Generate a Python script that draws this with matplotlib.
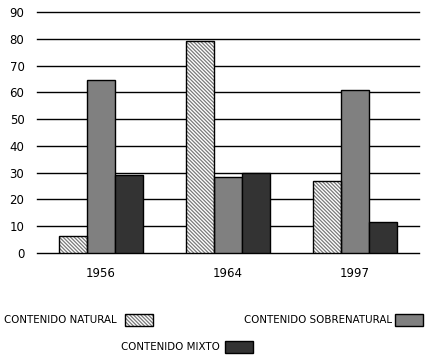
import matplotlib
matplotlib.use("Agg")
import matplotlib.pyplot as plt
import numpy as np
from matplotlib.patches import Rectangle

years = ["1956", "1964", "1997"]
natural = [6.5, 79, 27]
sobrenatural = [64.5, 28.5, 61]
mixto = [29, 30, 11.5]
series_names = ["CONTENIDO NATURAL", "CONTENIDO SOBRENATURAL", "CONTENIDO MIXTO"]
yticks = [0, 10, 20, 30, 40, 50, 60, 70, 80, 90]

plt.rcParams['font.family'] = ['DejaVu Sans']
plt.rcParams['hatch.linewidth'] = 0.9

HATCH = '\\' * 9

fig = plt.figure(figsize=(4.34, 3.61), dpi=100)
ax = fig.add_axes([0.085, 0.299, 0.88, 0.668])

x = np.arange(len(years))
w = 0.22
# natural: hatched
ax.bar(x - w, natural, w, color='white', edgecolor='#7a7a7a', hatch=HATCH, linewidth=0, zorder=3)
ax.bar(x - w, natural, w, color='none', edgecolor='black', linewidth=1, zorder=4)
ax.bar(x, sobrenatural, w, color='#808080', edgecolor='black', linewidth=1, zorder=3)
ax.bar(x + w, mixto, w, color='#333333', edgecolor='black', linewidth=1, zorder=3)

ax.set_xlim(-0.5, 2.5)
ax.set_ylim(0, 90)
ax.set_yticks(yticks)
ax.set_yticklabels([str(t) for t in yticks], fontsize=8.5)
ax.set_xticks(x)
ax.set_xticklabels(years, fontsize=8.5)
ax.tick_params(length=0)
ax.tick_params(axis='y', pad=9)
ax.tick_params(axis='x', pad=10)
ax.yaxis.grid(True, color='black', linewidth=1)
for gl in ax.get_ygridlines():
    gl.set_clip_on(False)
ax.set_axisbelow(True)
for s in ax.spines.values():
    s.set_visible(False)

# legend
def leg(tx, ty, label, px, **kw):
    fig.text(tx / 434, 1 - ty / 361, label, fontsize=7.4, va='center', ha='left')
    r = (px / 434, 1 - (ty + 6) / 361)
    if kw.get('hatch'):
        fig.add_artist(Rectangle(r, 28 / 434, 12 / 361, transform=fig.transFigure,
                                 facecolor='white', edgecolor='#7a7a7a', hatch=kw['hatch'], linewidth=0))
        fig.add_artist(Rectangle(r, 28 / 434, 12 / 361, transform=fig.transFigure,
                                 facecolor='none', edgecolor='black', linewidth=1))
    else:
        fig.add_artist(Rectangle(r, 28 / 434, 12 / 361, transform=fig.transFigure,
                                 facecolor=kw['fc'], edgecolor='black', linewidth=1))

leg(4, 320, series_names[0], 125, hatch=HATCH)
leg(244, 320, series_names[1], 395, fc='#808080')
leg(121, 347, series_names[2], 225, fc='#333333')

fig.savefig("out.png", dpi=100)
